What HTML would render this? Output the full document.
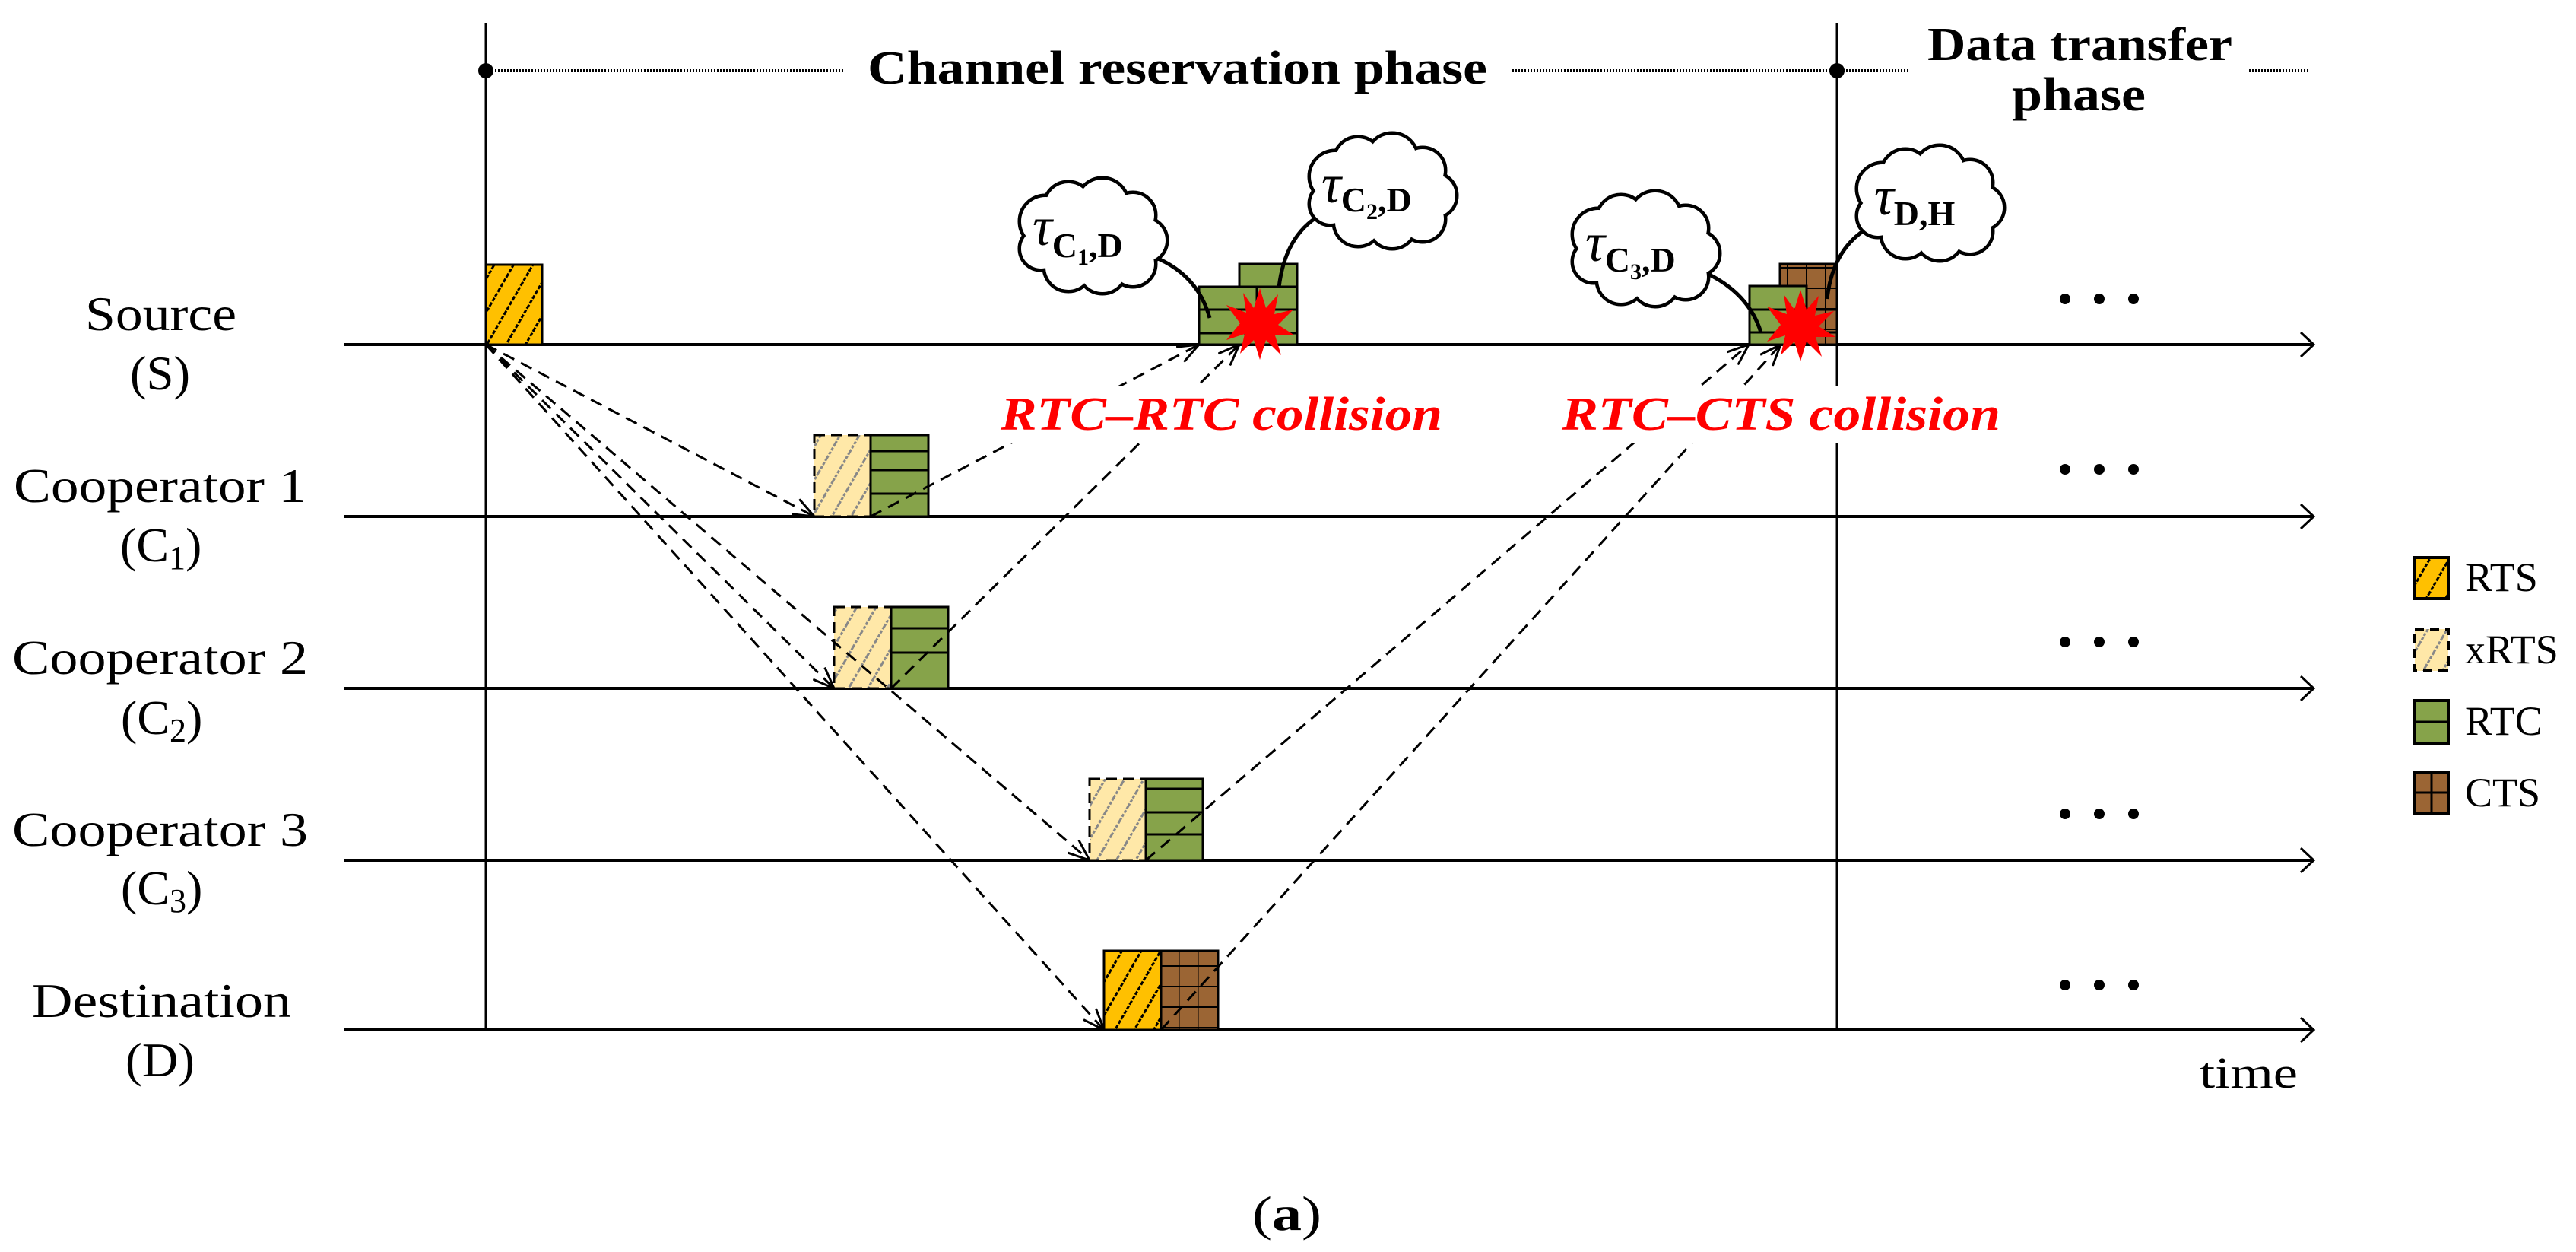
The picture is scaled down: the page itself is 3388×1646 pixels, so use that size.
<!DOCTYPE html>
<html><head><meta charset="utf-8"><style>html,body{margin:0;padding:0;background:#fff}svg{display:block}</style></head>
<body>
<svg xmlns="http://www.w3.org/2000/svg" width="3388" height="1646" viewBox="0 0 3388 1646">
<defs>
<pattern id="pRTS" patternUnits="userSpaceOnUse" width="22" height="22" patternTransform="rotate(30)">
<rect width="22" height="22" fill="#FFC000"/><line x1="11" y1="0" x2="11" y2="22" stroke="#000" stroke-width="3" stroke-dasharray="5,2"/></pattern>
<pattern id="pX" patternUnits="userSpaceOnUse" width="22" height="22" patternTransform="rotate(30)">
<rect width="22" height="22" fill="#FFE8A8"/><line x1="11" y1="0" x2="11" y2="22" stroke="#888" stroke-width="3" stroke-dasharray="4,2"/></pattern>
<pattern id="pCTS" patternUnits="userSpaceOnUse" x="0" y="0" width="25" height="27">
<rect width="25" height="27" fill="#9B6534"/><line x1="0" y1="0" x2="25" y2="0" stroke="#000" stroke-width="4"/><line x1="0" y1="0" x2="0" y2="27" stroke="#000" stroke-width="3"/></pattern>
<marker id="ah" markerUnits="userSpaceOnUse" viewBox="0 0 30 24" refX="29" refY="12" markerWidth="30" markerHeight="24" orient="auto">
<path d="M1,1 L29,12 L1,23" fill="none" stroke="#000" stroke-width="3" stroke-dasharray="none"/></marker>
<g id="cS" stroke="#000" stroke-width="9" fill="#fff">
<circle cx="-60" cy="-20" r="32"/><circle cx="-30" cy="-40" r="30"/><circle cx="15" cy="-43" r="32"/><circle cx="55" cy="-28" r="28"/><circle cx="70" cy="5" r="28"/><circle cx="55" cy="36" r="28"/><circle cx="15" cy="43" r="30"/><circle cx="-30" cy="40" r="30"/><circle cx="-66" cy="16" r="26"/></g>
<g id="cF" fill="#fff">
<circle cx="-60" cy="-20" r="32"/><circle cx="-30" cy="-40" r="30"/><circle cx="15" cy="-43" r="32"/><circle cx="55" cy="-28" r="28"/><circle cx="70" cy="5" r="28"/><circle cx="55" cy="36" r="28"/><circle cx="15" cy="43" r="30"/><circle cx="-30" cy="40" r="30"/><circle cx="-66" cy="16" r="26"/><circle cx="0" cy="0" r="55"/></g>
<polygon id="star" fill="#f00" points="0,-46 8,-20 24,-38 19,-12 44,-18 24,2 46,16 20,16 28,42 8,22 0,48 -8,22 -26,40 -20,14 -44,22 -26,0 -44,-24 -18,-14 -22,-40 -8,-20"/>
</defs>

<line x1="639" y1="30" x2="639" y2="1354" stroke="#000" stroke-width="3"/>
<line x1="2416" y1="30" x2="2416" y2="1354" stroke="#000" stroke-width="3"/>

<circle cx="639" cy="93" r="10" fill="#000"/>
<circle cx="2416" cy="93" r="10" fill="#000"/>
<g stroke="#000" stroke-width="4" stroke-dasharray="2,2">
<line x1="639" y1="93" x2="1110" y2="93"/>
<line x1="1989" y1="93" x2="2416" y2="93"/>
<line x1="2416" y1="93" x2="2510" y2="93"/>
<line x1="2958" y1="93" x2="3035" y2="93"/>
</g>
<g font-family="'Liberation Serif',serif" font-weight="bold" font-size="62" fill="#000">
<text x="1141" y="110" textLength="815" lengthAdjust="spacingAndGlyphs">Channel reservation phase</text>
<text x="2535" y="79" textLength="401" lengthAdjust="spacingAndGlyphs">Data transfer</text>
<text x="2646" y="145" textLength="176" lengthAdjust="spacingAndGlyphs">phase</text>
</g>

<g font-family="'Liberation Serif',serif" font-size="64" fill="#000">
<text x="112" y="434" textLength="199" lengthAdjust="spacingAndGlyphs">Source</text>
<text x="171" y="512" textLength="79" lengthAdjust="spacingAndGlyphs">(S)</text>
<text x="18" y="660" textLength="385" lengthAdjust="spacingAndGlyphs">Cooperator 1</text>
<text x="158" y="738">(C<tspan font-size="44" dy="10">1</tspan><tspan dy="-10">)</tspan></text>
<text x="16" y="886" textLength="389" lengthAdjust="spacingAndGlyphs">Cooperator 2</text>
<text x="159" y="965">(C<tspan font-size="44" dy="10">2</tspan><tspan dy="-10">)</tspan></text>
<text x="16" y="1112" textLength="389" lengthAdjust="spacingAndGlyphs">Cooperator 3</text>
<text x="159" y="1189">(C<tspan font-size="44" dy="10">3</tspan><tspan dy="-10">)</tspan></text>
<text x="42" y="1337" textLength="341" lengthAdjust="spacingAndGlyphs">Destination</text>
<text x="165" y="1415" textLength="91" lengthAdjust="spacingAndGlyphs">(D)</text>
<text x="2893" y="1430" font-size="58" textLength="129" lengthAdjust="spacingAndGlyphs">time</text>
<text x="1647" y="1617" textLength="91" lengthAdjust="spacingAndGlyphs">(<tspan font-weight="bold">a</tspan>)</text>
</g>

<g stroke="#000" stroke-width="4" fill="none">
<line x1="452" y1="453" x2="3043" y2="453"/><path d="M3026,437 L3043,453 L3026,469" stroke-width="3"/>
<line x1="452" y1="679" x2="3043" y2="679"/><path d="M3026,663 L3043,679 L3026,695" stroke-width="3"/>
<line x1="452" y1="905" x2="3043" y2="905"/><path d="M3026,889 L3043,905 L3026,921" stroke-width="3"/>
<line x1="452" y1="1131" x2="3043" y2="1131"/><path d="M3026,1115 L3043,1131 L3026,1147" stroke-width="3"/>
<line x1="452" y1="1354" x2="3043" y2="1354"/><path d="M3026,1338 L3043,1354 L3026,1370" stroke-width="3"/>
</g>

<g fill="#000">
<circle cx="2716" cy="393" r="7"/><circle cx="2761" cy="393" r="7"/><circle cx="2806" cy="393" r="7"/>
<circle cx="2716" cy="617" r="7"/><circle cx="2761" cy="617" r="7"/><circle cx="2806" cy="617" r="7"/>
<circle cx="2716" cy="844" r="7"/><circle cx="2761" cy="844" r="7"/><circle cx="2806" cy="844" r="7"/>
<circle cx="2716" cy="1070" r="7"/><circle cx="2761" cy="1070" r="7"/><circle cx="2806" cy="1070" r="7"/>
<circle cx="2716" cy="1295" r="7"/><circle cx="2761" cy="1295" r="7"/><circle cx="2806" cy="1295" r="7"/>
</g>

<rect x="639" y="348" width="74" height="105" fill="url(#pRTS)" stroke="#000" stroke-width="3"/>

<rect x="1071" y="572" width="74" height="107" fill="url(#pX)" stroke="#000" stroke-width="3" stroke-dasharray="14,8"/>
<rect x="1145" y="572" width="76" height="107" fill="#86A34A" stroke="#000" stroke-width="3"/>
<g stroke="#000" stroke-width="3"><line x1="1145" y1="593" x2="1221" y2="593"/><line x1="1145" y1="618" x2="1221" y2="618"/><line x1="1145" y1="649" x2="1221" y2="649"/></g>
<rect x="1097" y="798" width="75" height="107" fill="url(#pX)" stroke="#000" stroke-width="3" stroke-dasharray="14,8"/>
<rect x="1172" y="798" width="75" height="107" fill="#86A34A" stroke="#000" stroke-width="3"/>
<g stroke="#000" stroke-width="3"><line x1="1172" y1="826" x2="1247" y2="826"/><line x1="1172" y1="858" x2="1247" y2="858"/></g>
<rect x="1433" y="1024" width="74" height="107" fill="url(#pX)" stroke="#000" stroke-width="3" stroke-dasharray="14,8"/>
<rect x="1507" y="1024" width="75" height="107" fill="#86A34A" stroke="#000" stroke-width="3"/>
<g stroke="#000" stroke-width="3"><line x1="1507" y1="1037" x2="1582" y2="1037"/><line x1="1507" y1="1068" x2="1582" y2="1068"/><line x1="1507" y1="1097" x2="1582" y2="1097"/></g>
<rect x="1452" y="1250" width="75" height="104" fill="url(#pRTS)" stroke="#000" stroke-width="3"/>
<rect x="1527" y="1250" width="75" height="104" fill="url(#pCTS)" stroke="#000" stroke-width="3"/>

<g stroke="#000" stroke-width="3" stroke-dasharray="16,10" fill="none" marker-end="url(#ah)">
<line x1="639" y1="453" x2="1071" y2="679"/>
<line x1="639" y1="453" x2="1097" y2="905"/>
<line x1="639" y1="453" x2="1433" y2="1131"/>
<line x1="639" y1="453" x2="1452" y2="1354"/>
<line x1="1145" y1="679" x2="1577" y2="453"/>
<line x1="1172" y1="905" x2="1630" y2="453"/>
<line x1="1507" y1="1131" x2="2300" y2="453"/>
<line x1="1527" y1="1354" x2="2342" y2="453"/>
</g>

<g font-family="'Liberation Serif',serif" font-weight="bold" font-style="italic" font-size="62" fill="#f00">
<rect x="1305" y="508" width="600" height="75" fill="#fff"/>
<rect x="2045" y="508" width="595" height="75" fill="#fff"/>
<text x="1316" y="565" textLength="581" lengthAdjust="spacingAndGlyphs">RTC–RTC collision</text>
<text x="2054" y="565" textLength="577" lengthAdjust="spacingAndGlyphs">RTC–CTS collision</text>
</g>

<rect x="1630" y="347" width="76" height="106" fill="#86A34A" stroke="#000" stroke-width="3"/>
<rect x="1577" y="377" width="76" height="76" fill="#86A34A" stroke="#000" stroke-width="3"/>
<g stroke="#000" stroke-width="3"><line x1="1577" y1="407" x2="1706" y2="407"/><line x1="1577" y1="438" x2="1706" y2="438"/><line x1="1630" y1="377" x2="1706" y2="377"/></g>
<use href="#star" x="1657" y="425"/>
<rect x="2341" y="347" width="75" height="106" fill="url(#pCTS)" stroke="#000" stroke-width="3"/>
<rect x="2301" y="376" width="75" height="77" fill="#86A34A" stroke="#000" stroke-width="3"/>
<g stroke="#000" stroke-width="3"><line x1="2301" y1="407" x2="2416" y2="407"/><line x1="2301" y1="437" x2="2416" y2="437"/></g>
<use href="#star" x="2368" y="427"/>

<g stroke="#000" stroke-width="5" fill="none">
<path d="M1516,337 Q1575,360 1591,418"/>
<path d="M1736,283 Q1690,310 1682,378"/>
<path d="M2242,358 Q2300,385 2316,437"/>
<path d="M2453,302 Q2410,330 2403,393"/>
</g>
<use href="#cS" x="1435" y="311"/><use href="#cF" x="1435" y="311"/>
<use href="#cS" x="1816" y="252"/><use href="#cF" x="1816" y="252"/>
<use href="#cS" x="2162" y="328"/><use href="#cF" x="2162" y="328"/>
<use href="#cS" x="2536" y="268"/><use href="#cF" x="2536" y="268"/>
<g font-family="'Liberation Serif',serif" fill="#000">
<text x="1358" y="322" font-size="72" font-style="italic">τ<tspan font-size="46" font-style="normal" font-weight="bold" dy="16">C<tspan font-size="30" dy="10">1</tspan><tspan dy="-10">,D</tspan></tspan></text>
<text x="1738" y="266" font-size="72" font-style="italic">τ<tspan font-size="46" font-style="normal" font-weight="bold" dy="12">C<tspan font-size="30" dy="10">2</tspan><tspan dy="-10">,D</tspan></tspan></text>
<text x="2085" y="343" font-size="72" font-style="italic">τ<tspan font-size="46" font-style="normal" font-weight="bold" dy="14">C<tspan font-size="30" dy="10">3</tspan><tspan dy="-10">,D</tspan></tspan></text>
<text x="2465" y="282" font-size="72" font-style="italic">τ<tspan font-size="46" font-style="normal" font-weight="bold" dy="14">D,H</tspan></text>
</g>

<rect x="3176" y="733" width="44" height="54" fill="url(#pRTS)" stroke="#000" stroke-width="4"/>
<rect x="3176" y="827" width="44" height="55" fill="url(#pX)" stroke="#000" stroke-width="4" stroke-dasharray="12,8"/>
<rect x="3176" y="921" width="44" height="56" fill="#86A34A" stroke="#000" stroke-width="4"/>
<line x1="3176" y1="949" x2="3220" y2="949" stroke="#000" stroke-width="3"/>
<rect x="3176" y="1015" width="44" height="55" fill="#9B6534" stroke="#000" stroke-width="4"/>
<line x1="3176" y1="1042" x2="3220" y2="1042" stroke="#000" stroke-width="3"/>
<line x1="3198" y1="1015" x2="3198" y2="1070" stroke="#000" stroke-width="3"/>
<g font-family="'Liberation Serif',serif" font-size="54" fill="#000">
<text x="3242" y="777">RTS</text>
<text x="3242" y="872">xRTS</text>
<text x="3242" y="966">RTC</text>
<text x="3242" y="1060">CTS</text>
</g>
</svg>
</body></html>
